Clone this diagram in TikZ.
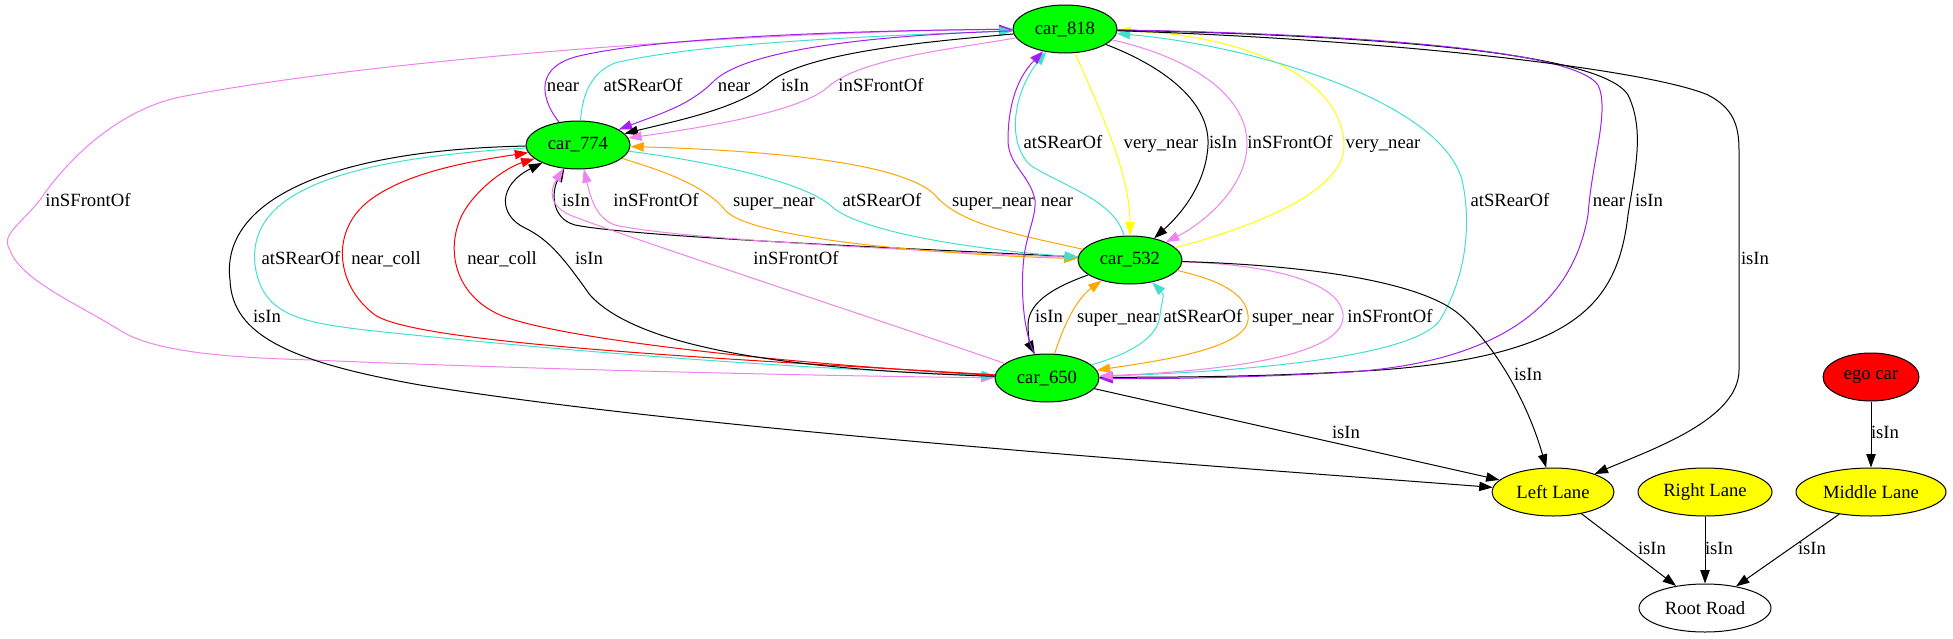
\documentclass[tikz,border=0pt]{standalone}
\usepackage{fontspec}
\setmainfont{Liberation Serif}
\usetikzlibrary{shapes.geometric,arrows.meta}
\definecolor{gvpurple}{HTML}{A020F0}
\definecolor{gvturq}{HTML}{40E0D0}
\definecolor{gvviolet}{HTML}{EE82EE}
\definecolor{gvorange}{HTML}{FFA500}
\definecolor{gvgreen}{HTML}{00FF00}
\definecolor{gvyellow}{HTML}{FFFF00}
\definecolor{gvred}{HTML}{FF0000}
\tikzset{
  gnode/.style={ellipse, draw=black, line width=0.75pt, minimum height=36pt, inner sep=0pt, font=\fontsize{14pt}{16pt}\selectfont},
  car/.style={gnode, fill=gvgreen, minimum width=78pt},
  lanenode/.style={gnode, fill=gvyellow},
  edg/.style={-{Triangle[length=10pt,width=7pt]}, line width=0.75pt},
  lbl/.style={inner sep=0pt, text height=10pt, text depth=3pt, font=\fontsize{14pt}{16pt}\selectfont},
}
\begin{document}
\begin{tikzpicture}[x=0.75pt,y=0.75pt]
\useasboundingbox (0,0) rectangle (1953,-639);
% nodes
\node[car] (c818) at (1065,-29) {car\_818};
\node[car] (c774) at (578,-145) {car\_774};
\node[car] (c532) at (1130,-260) {car\_532};
\node[car] (c650) at (1047,-378) {car\_650};
\node[lanenode, minimum width=91.5pt] (LL) at (1553,-492) {Left Lane};
\node[lanenode, minimum width=100.5pt] (RL) at (1705,-492) {Right Lane};
\node[lanenode, minimum width=112.5pt] (ML) at (1871,-492) {Middle Lane};
\node[gnode, fill=gvred, minimum width=72pt] (ego) at (1871,-377) {ego car};
\node[gnode, fill=white, minimum width=99pt] (RR) at (1705,-608) {Root Road};

% big violet loop (car_818 -> car_650)
\draw[edg,gvviolet] (c818) .. controls (800,-30) and (400,-55) .. (180,-97) .. controls (110,-112) and (60,-170) .. (40,-200) .. controls (20,-225) and (0,-235) .. (10,-250) .. controls (20,-280) and (80,-305) .. (121,-331) .. controls (160,-355) and (250,-358) .. (312,-360) .. controls (600,-372) and (900,-377) .. (c650);

% car_774 <-> car_818
\draw[edg,gvpurple] (c774) .. controls (545,-105) and (530,-70) .. (575,-57) .. controls (660,-35) and (900,-30) .. (c818);
\draw[edg,gvturq] (c774) .. controls (582,-105) and (585,-75) .. (615,-63) .. controls (700,-42) and (900,-35) .. (c818);
\draw[edg,gvpurple] (c818) .. controls (950,-33) and (760,-40) .. (715,-80) .. controls (690,-105) and (665,-112) .. (c774);
\draw[edg] (c818) .. controls (950,-40) and (810,-50) .. (770,-82) .. controls (740,-108) and (680,-120) .. (c774);
\draw[edg,gvviolet] (c818) .. controls (960,-48) and (860,-58) .. (828,-87) .. controls (800,-112) and (700,-128) .. (c774);

% car_818 <-> car_532
\draw[edg,gvturq] (c532) .. controls (1115,-200) and (1060,-185) .. (1030,-165) .. controls (1005,-140) and (1015,-90) .. (c818);
\draw[edg,gvyellow] (c818) .. controls (1095,-100) and (1130,-170) .. (c532);
\draw[edg] (c818) .. controls (1160,-65) and (1210,-100) .. (1208,-145) .. controls (1206,-185) and (1180,-215) .. (c532);
\draw[edg,gvviolet] (c818) .. controls (1200,-60) and (1248,-100) .. (1247,-145) .. controls (1246,-190) and (1200,-225) .. (c532);
\draw[edg,gvyellow] (c532) .. controls (1260,-225) and (1345,-190) .. (1344,-145) .. controls (1343,-80) and (1250,-35) .. (c818);

% car_774 <-> car_532
\draw[edg] (c532) .. controls (950,-250) and (640,-238) .. (575,-225) .. controls (550,-218) and (552,-190) .. (c774);
\draw[edg,gvviolet] (c532) .. controls (950,-252) and (680,-240) .. (615,-225) .. controls (595,-218) and (590,-195) .. (c774);
\draw[edg,gvorange] (c774) .. controls (660,-170) and (705,-185) .. (725,-210) .. controls (750,-240) and (950,-255) .. (c532);
\draw[edg,gvturq] (c774) .. controls (700,-160) and (800,-180) .. (830,-205) .. controls (860,-235) and (1000,-252) .. (c532);
\draw[edg,gvorange] (c532) .. controls (1020,-235) and (960,-225) .. (935,-195) .. controls (900,-160) and (750,-150) .. (c774);

% car_774 <-> car_650
\draw[edg,gvturq] (c774) .. controls (320,-160) and (248,-200) .. (255,-265) .. controls (262,-315) and (300,-322) .. (365,-330) .. controls (600,-355) and (800,-368) .. (c650);
\draw[edg,gvred] (c650) .. controls (750,-360) and (420,-345) .. (375,-315) .. controls (335,-285) and (330,-230) .. (370,-200) .. controls (410,-170) and (480,-160) .. (c774);
\draw[edg,gvred] (c650) .. controls (800,-365) and (560,-340) .. (500,-315) .. controls (455,-295) and (445,-250) .. (462,-215) .. controls (475,-190) and (505,-168) .. (c774);
\draw[edg] (c650) .. controls (800,-370) and (640,-350) .. (590,-295) .. controls (565,-260) and (550,-240) .. (525,-228) .. controls (498,-215) and (498,-185) .. (c774);
\draw[edg,gvviolet] (c650) .. controls (850,-310) and (620,-235) .. (570,-215) .. controls (548,-205) and (550,-190) .. (c774);
\draw[edg] (c774) .. controls (330,-150) and (220,-200) .. (230,-280) .. controls (232,-335) and (290,-362) .. (420,-385) .. controls (700,-430) and (1200,-465) .. (LL);

% car_532 <-> car_650, car_650 <-> car_818
\draw[edg] (c532) .. controls (1060,-285) and (1028,-300) .. (1028,-325) .. controls (1028,-335) and (1030,-345) .. (c650);
\draw[edg,gvpurple] (c650) .. controls (1022,-330) and (1020,-280) .. (1025,-250) .. controls (1030,-225) and (1036,-215) .. (1035,-200) .. controls (1030,-175) and (1008,-165) .. (1008,-140) .. controls (1008,-110) and (1015,-80) .. (c818);
\draw[edg,gvorange] (c650) .. controls (1062,-330) and (1075,-300) .. (c532);
\draw[edg,gvturq] (c650) .. controls (1125,-355) and (1158,-340) .. (1160,-315) .. controls (1162,-300) and (1165,-295) .. (c532);
\draw[edg,gvturq] (c650) .. controls (1300,-370) and (1420,-350) .. (1440,-320) .. controls (1470,-270) and (1470,-215) .. (1462,-180) .. controls (1440,-100) and (1250,-45) .. (c818);
\draw[edg] (c818) .. controls (1350,-35) and (1600,-50) .. (1628,-95) .. controls (1645,-130) and (1635,-170) .. (1628,-215) .. controls (1618,-300) and (1580,-355) .. (1380,-370) .. controls (1250,-378) and (1150,-377) .. (c650);
\draw[edg,gvpurple] (c818) .. controls (1300,-33) and (1570,-45) .. (1598,-85) .. controls (1610,-110) and (1592,-160) .. (1588,-215) .. controls (1575,-290) and (1520,-360) .. (1350,-372) .. controls (1250,-378) and (1150,-379) .. (c650);
\draw[edg,gvorange] (c532) .. controls (1220,-280) and (1250,-295) .. (1248,-320) .. controls (1245,-350) and (1150,-362) .. (c650);
\draw[edg,gvviolet] (c532) .. controls (1280,-265) and (1345,-285) .. (1343,-318) .. controls (1340,-360) and (1200,-372) .. (c650);

% lanes
\draw[edg] (c818) .. controls (1400,-40) and (1650,-70) .. (1708,-95) .. controls (1733,-108) and (1739,-125) .. (1739,-150) -- (1739,-370) .. controls (1739,-420) and (1650,-450) .. (LL);
\draw[edg] (c532) .. controls (1300,-265) and (1420,-280) .. (1460,-315) .. controls (1500,-350) and (1530,-410) .. (LL);
\draw[edg] (c650) -- (LL);
\draw[edg] (ego) -- (ML);
\draw[edg] (LL) -- (RR);
\draw[edg] (RL) -- (RR);
\draw[edg] (ML) -- (RR);

% labels
\node[lbl] (l01) at (563,-87) {near};
\node[lbl] (l02) at (643,-87) {atSRearOf};
\node[lbl] (l03) at (734,-87) {near};
\node[lbl] (l04) at (795,-87) {isIn};
\node[lbl] (l05) at (881,-87) {inSFrontOf};
\node[lbl] (l06) at (1063,-144) {atSRearOf};
\node[lbl] (l07) at (1161,-144) {very\_near};
\node[lbl] (l08) at (1223,-144) {isIn};
\node[lbl] (l09) at (1290,-144) {inSFrontOf};
\node[lbl] (l10) at (1383,-144) {very\_near};
\node[lbl] (l11) at (88,-202) {inSFrontOf};
\node[lbl] (l12) at (576,-202) {isIn};
\node[lbl] (l13) at (656,-202) {inSFrontOf};
\node[lbl] (l14) at (774,-202) {super\_near};
\node[lbl] (l15) at (882,-202) {atSRearOf};
\node[lbl] (l16) at (993,-202) {super\_near};
\node[lbl] (l17) at (1057,-202) {near};
\node[lbl] (l18) at (1510,-202) {atSRearOf};
\node[lbl] (l19) at (1609,-202) {near};
\node[lbl] (l20) at (1649,-202) {isIn};
\node[lbl] (l21) at (301,-260) {atSRearOf};
\node[lbl] (l22) at (386,-260) {near\_coll};
\node[lbl] (l23) at (502,-260) {near\_coll};
\node[lbl] (l24) at (589,-260) {isIn};
\node[lbl] (l25) at (796,-260) {inSFrontOf};
\node[lbl] (l26) at (1755,-260) {isIn};
\node[lbl] (l27) at (267,-318) {isIn};
\node[lbl] (l28) at (1049,-318) {isIn};
\node[lbl] (l29) at (1118,-318) {super\_near};
\node[lbl] (l30) at (1203,-318) {atSRearOf};
\node[lbl] (l31) at (1293,-318) {super\_near};
\node[lbl] (l32) at (1390,-318) {inSFrontOf};
\node[lbl] (l33) at (1528,-376) {isIn};
\node[lbl] (l34) at (1346,-434) {isIn};
\node[lbl] (l35) at (1885,-434) {isIn};
\node[lbl] (l36) at (1652,-550) {isIn};
\node[lbl] (l37) at (1719,-550) {isIn};
\node[lbl] (l38) at (1812,-550) {isIn};
\end{tikzpicture}
\end{document}
